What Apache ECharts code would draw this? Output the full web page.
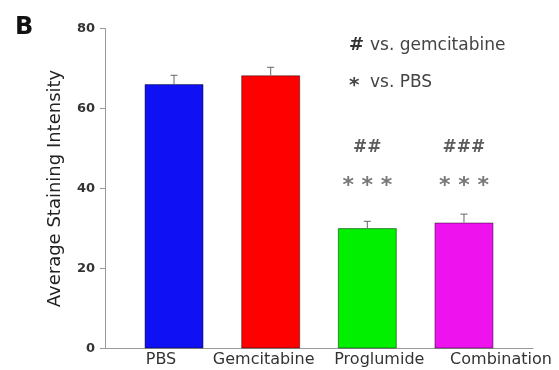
<!DOCTYPE html>
<html>
<head>
<meta charset="utf-8">
<script src="https://cdn.jsdelivr.net/npm/echarts@6/dist/echarts.min.js"></script>
<style>html,body{margin:0;padding:0;background:#fff;}#c{width:559px;height:370px;}</style>
</head>
<body>
<div id="c"></div>
<script>
var categories = ['PBS', 'Gemcitabine', 'Proglumide', 'Combination'];
var meanValues = [66.1, 68.3, 30.1, 31.5];
var semValues = [2.2, 2.0, 1.7, 2.1];
var hashMarks = ['', '', '##', '###'];
var starMarks = ['', '', '* * *', '* * *'];
var yTicks = [0, 20, 40, 60, 80];
var barColors = ['#1010f5', '#ff0000', '#00f000', '#ee12ee'];
var labelShift = [-13, -7, 12, 37];
var hashLevel = 50.3;
var starLevel = 40.5;

var chart = echarts.init(document.getElementById('c'), null, {renderer: 'canvas'});
var FONT = 'DejaVu Sans';
var gridTop = 28.5, gridBottom = 21.5;

var xData = categories.map(function (c, i) {
  var d = labelShift[i];
  return {value: c, textStyle: {padding: d >= 0 ? [0, 0, 0, 2 * d] : [0, -2 * d, 0, 0]}};
});

var option = {
  animation: false,
  backgroundColor: '#ffffff',
  grid: [
    {left: 125.7, right: 46.7, top: gridTop, bottom: gridBottom},
    {left: 105, right: 26, top: gridTop, bottom: gridBottom}
  ],
  xAxis: [
    {
      type: 'category', gridIndex: 0, data: xData,
      axisLine: {show: false}, axisTick: {show: false},
      axisLabel: {interval: 0, hideOverlap: false, fontFamily: FONT, fontSize: 16, color: '#333', margin: 3}
    },
    {
      type: 'value', gridIndex: 1, min: 0, max: 1,
      axisLine: {show: true, lineStyle: {color: '#999', width: 1}},
      axisTick: {show: false}, axisLabel: {show: false}, splitLine: {show: false}
    }
  ],
  yAxis: [
    {
      type: 'value', gridIndex: 0, min: yTicks[0], max: yTicks[yTicks.length - 1], interval: 20,
      show: false
    },
    {
      type: 'value', gridIndex: 1, min: yTicks[0], max: yTicks[yTicks.length - 1], interval: 20,
      axisLine: {show: true, lineStyle: {color: '#999', width: 1}},
      axisTick: {show: true, length: 5, lineStyle: {color: '#999'}},
      splitLine: {show: false},
      axisLabel: {fontFamily: FONT, fontSize: 13, fontWeight: 'bold', color: '#333', margin: 10},
      name: 'Average Staining Intensity', nameLocation: 'middle', nameGap: 41, nameRotate: 90,
      nameTextStyle: {fontFamily: FONT, fontSize: 18, color: '#222'}
    }
  ],
  graphic: [
    {type: 'text', left: 15, top: 16, style: {text: 'B', font: 'bold 24px "DejaVu Sans"', fill: '#111'}},
    {type: 'text', left: 349, top: 36, style: {text: '#', font: 'bold 18px "DejaVu Sans"', fill: '#333'}},
    {type: 'text', left: 370, top: 37, style: {text: 'vs. gemcitabine', font: '17px "DejaVu Sans"', fill: '#444'}},
    {type: 'text', left: 349, top: 76, style: {text: '*', font: 'bold 20px "DejaVu Sans"', fill: '#444'}},
    {type: 'text', left: 370, top: 74, style: {text: 'vs. PBS', font: '17px "DejaVu Sans"', fill: '#444'}}
  ],
  series: [
    {
      type: 'bar', xAxisIndex: 0, yAxisIndex: 0, barWidth: 59,
      data: meanValues.map(function (v, i) {
        return {value: v, itemStyle: {color: barColors[i]}};
      }),
      itemStyle: {borderColor: 'rgba(0,0,0,0.45)', borderWidth: 1}
    },
    {
      type: 'custom', xAxisIndex: 0, yAxisIndex: 0,
      data: meanValues.map(function (v, i) { return [i, v, semValues[i]]; }),
      renderItem: function (params, api) {
        var top = api.coord([api.value(0), api.value(1) + api.value(2)]);
        var base = api.coord([api.value(0), api.value(1)]);
        var style = {stroke: '#666', lineWidth: 1};
        return {
          type: 'group',
          children: [
            {type: 'line', shape: {x1: base[0], y1: base[1], x2: top[0], y2: top[1]}, style: style},
            {type: 'line', shape: {x1: top[0] - 3.5, y1: top[1], x2: top[0] + 3.5, y2: top[1]}, style: style}
          ]
        };
      },
      z: 3
    },
    {
      type: 'scatter', xAxisIndex: 0, yAxisIndex: 0, symbolSize: 0,
      data: hashMarks.map(function (t, i) { return {value: [i, hashLevel], label: {formatter: t}}; }),
      label: {show: true, position: 'inside', fontFamily: FONT, fontSize: 17, fontWeight: 'bold', color: '#333'}
    },
    {
      type: 'scatter', xAxisIndex: 0, yAxisIndex: 0, symbolSize: 0,
      data: starMarks.map(function (t, i) { return {value: [i, starLevel], label: {formatter: t}}; }),
      label: {show: true, position: 'inside', fontFamily: FONT, fontSize: 22, fontWeight: 'bold', color: '#555'}
    }
  ]
};
chart.setOption(option);
</script>
</body>
</html>
